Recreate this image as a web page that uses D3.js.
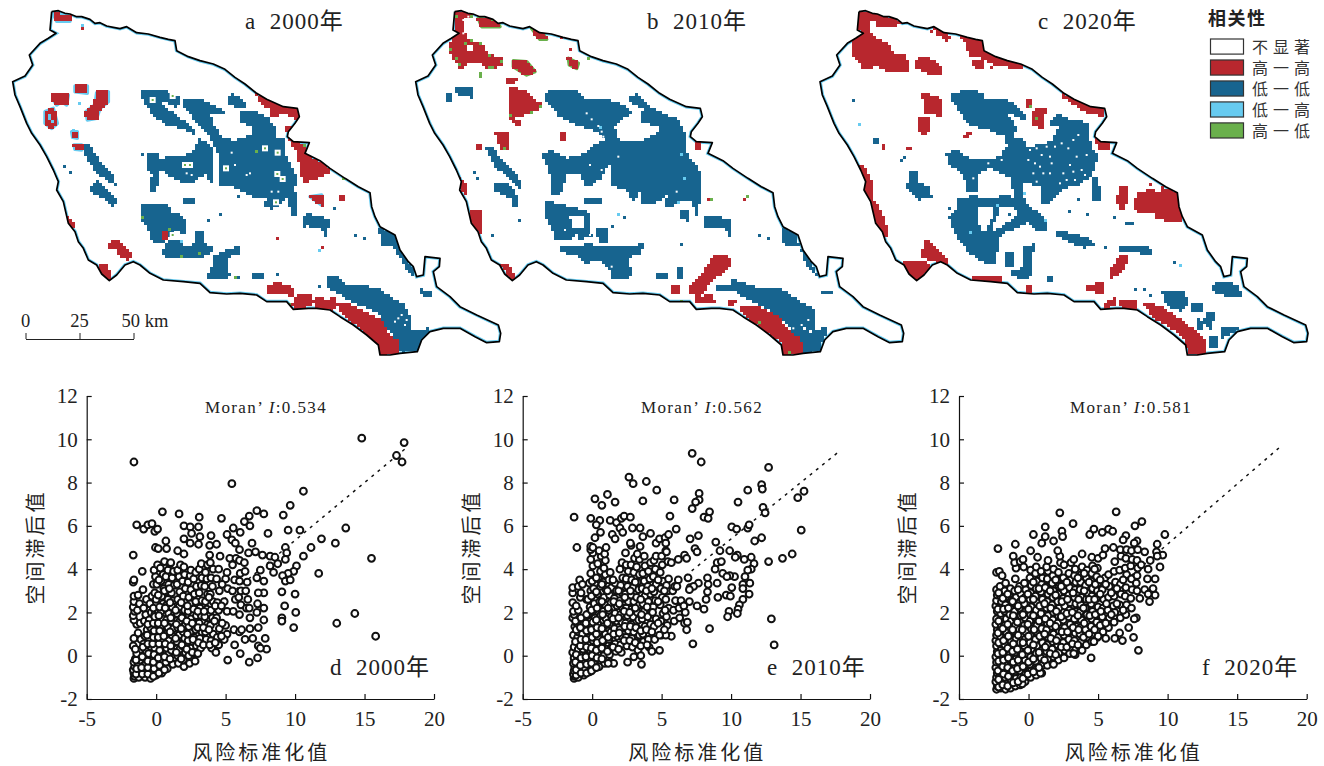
<!DOCTYPE html>
<html>
<head>
<meta charset="utf-8">
<script src="https://cdnjs.cloudflare.com/ajax/libs/d3/7.8.5/d3.min.js"></script>
<style>
body {margin: 0; background: #fff;}
text {font-family: "Liberation Serif", "Noto Sans CJK SC", serif; fill: #222;}
</style>
</head>
<body>
<svg id="canvas" width="1324" height="766"></svg>
<script>
// legend
const legendTitle = "相关性"
const legendLabels = ["不显著", "高一高", "低一低", "低一高", "高一低"]
const legendColors = ["#ffffff", "#b8272e", "#17648f", "#67cbf0", "#6ab04c"]

// axes
const xTicks = [-5, 0, 5, 10, 15, 20]
const yTicks = [-2, 0, 2, 4, 6, 8, 10, 12]
const scaleTicks = [0, 25, 50]

// map outline, map units (flat x,y list)
const outline = [155,35,175,32,195,40,210,42,230,50,245,50,270,58,285,70,300,68,320,78,340,82,360,86,380,80,410,98,445,102,480,112,505,118,525,122,530,152,565,170,600,182,640,192,675,208,705,232,735,252,770,280,800,298,850,320,892,325,898,350,885,370,865,395,862,410,880,425,928,428,915,460,960,482,990,505,1035,535,1075,560,1110,578,1115,620,1125,650,1140,680,1185,705,1200,750,1225,785,1240,800,1250,830,1270,825,1275,770,1320,775,1318,800,1300,815,1310,860,1350,890,1380,920,1430,945,1495,975,1502,1000,1498,1025,1460,1028,1425,1010,1380,985,1330,985,1290,995,1265,1020,1252,1055,1200,1060,1170,1065,1140,1065,1135,1035,1100,1005,1060,975,1020,950,990,930,950,925,925,925,880,928,860,905,800,905,770,885,720,880,680,882,630,878,600,850,550,845,490,840,450,820,420,795,400,785,375,795,350,825,328,842,305,822,290,795,265,780,250,745,235,725,225,695,205,670,190,605,170,570,175,545,160,510,140,470,120,435,95,400,80,370,60,320,45,285,38,245,75,228,98,195,88,165,120,130,145,115,168,100,150,90,155,35]

// 2000 patches
const aLow = [
[425,285,430,272,490,272,510,285,535,295,530,325,515,310,490,300,470,300,490,325,530,350,575,385,580,400,550,385,500,370,465,345,440,310],
[555,298,600,298,625,315,665,330,668,342,625,340,640,380,660,410,695,425,720,420,755,405,770,385,745,370,720,365,725,340,770,340,800,355,825,385,820,420,850,420,855,470,875,510,890,530,880,570,888,590,888,650,875,645,870,600,850,585,845,610,815,625,795,615,820,590,790,590,750,585,720,565,690,555,658,555,662,470,650,440,620,390,585,355,555,320],
[595,420,615,425,640,460,640,530,632,550,625,520,600,525,580,545,545,545,520,530,490,510,470,505,475,530,465,575,450,575,452,545,460,525,440,500,440,470,465,460,480,480,530,470,570,465,590,445],
[683,290,700,285,735,315,725,325,700,315,685,305],
[250,445,262,435,300,490,340,530,335,545,310,530,280,500],
[275,560,290,545,310,560,330,585,345,600,340,620,320,595,295,585,278,572],
[425,612,500,620,515,640,540,645,560,670,550,700,530,690,510,700,480,730,455,715,445,680,430,660],
[590,700,610,700,612,730,635,745,625,760,600,770,560,770,530,770,495,770,490,755,505,725,530,720,550,745,585,735],
[640,770,690,750,715,740,712,760,680,770,680,810,690,825,665,838,625,835,630,815,645,795],
[910,650,930,645,985,660,980,705,960,680,925,675,908,678],
[555,596,585,596,585,606,555,608],
[760,820,790,825,795,835,762,832],
[985,835,1010,835,1040,860,1090,860,1140,870,1175,900,1210,915,1230,960,1225,985,1180,975,1165,985,1140,935,1085,915,1045,895,985,860],
[1165,985,1185,975,1210,985,1250,1000,1290,985,1250,1050,1205,1055,1195,1020],
[1140,690,1185,705,1205,760,1245,825,1225,810,1185,740,1150,735],
[1260,870,1290,880,1290,888,1260,878]]
const aHigh = [
[160,42,210,46,210,64,170,64],
[160,285,205,285,200,315,185,305,170,315,160,300],
[225,258,262,258,262,280,225,275],
[290,278,325,275,325,305,300,325,290,355,262,360,258,335,285,315],
[135,335,160,325,172,370,155,385,135,370],
[215,395,232,395,232,415,218,412],
[222,435,245,435,245,450,225,448],
[200,645,222,680,208,682],
[325,730,355,725,390,765,385,780,360,765,350,745,330,748],
[295,795,320,795,335,835,320,835,305,820],
[770,285,800,298,855,322,892,328,895,358,860,340,815,345,810,322,790,315],
[860,385,875,385,870,398,858,395],
[868,420,915,440,920,470,945,480,990,510,960,530,910,545,905,500,895,470,895,450],
[930,590,965,585,965,615,945,600],
[1018,592,1035,592,1035,603,1018,603],
[805,855,840,852,875,865,875,885,830,875,825,885,808,875],
[880,910,900,885,932,885,932,915,890,925],
[940,900,960,893,975,905,1003,895,1000,930,975,925,950,925],
[1012,915,1045,912,1090,935,1140,960,1165,1010,1195,1025,1195,1060,1140,1065,1135,1030,1095,990,1050,960],
[493,693,503,693,503,716,493,716]]
const aHaloIdx = [0,1,2,3,4,5,6,13]
const aHoles = [[145,345,155,345,160,370,150,370],[715,378,735,378,735,395,715,395]]
const aWhiteSpecks = [695,458,705,495,740,525,750,520,815,575,835,575,560,520,575,525,1195,955,1205,945,1220,960,1185,965,1215,975]
const aLightSpecks = [220,395,545,725,960,755,235,310,250,75,1005,625]
const aBlueSpecks = [195,495,215,520,350,555,625,665,660,645,718,585,1065,705,1095,712,960,860,1005,625,835,825,718,830,430,460]
const aRedSpecks = [250,85,830,712,968,745]
const aGreenSpecks = [772,450,428,648,505,685,545,765,595,762,710,828,1030,535,915,432,870,915]
const aBoxSpecks = [458,300,518,288,795,445,833,458,678,505,832,522,848,537,828,607,555,495,570,495,518,705]

// 2010 patches
const bLow = [
[405,290,420,272,490,272,525,298,590,300,625,312,660,335,610,375,625,428,700,425,750,400,750,375,700,365,695,340,715,330,665,305,662,290,680,285,710,320,750,340,800,360,825,410,830,470,865,505,868,590,860,650,850,605,820,600,790,615,765,615,785,570,760,590,735,605,700,605,690,560,670,600,650,565,610,555,610,490,585,500,575,530,530,560,510,520,470,515,450,580,430,585,428,530,410,490,398,465,420,455,470,480,520,465,560,435,590,420,570,395,500,370,450,345,425,315],
[405,605,470,620,540,640,535,680,535,710,510,715,500,690,480,715,440,715,420,670,405,640],
[565,685,595,685,595,725,575,725,560,700],
[455,745,540,735,600,745,650,745,695,735,690,760,650,770,660,815,655,838,610,835,600,800,570,780,530,785,495,760,455,755],
[140,268,190,265,188,290,160,285,140,278],
[108,280,120,280,120,302,108,302],
[230,445,240,440,280,490,320,525,332,560,305,535,260,500],
[255,548,285,548,312,580,295,590,258,570],
[305,590,325,590,322,620,308,620],
[888,650,960,660,962,705,945,685,890,682],
[965,840,1000,850,1050,870,1110,870,1175,910,1215,930,1210,985,1170,980,1140,975,1090,935,1040,905,985,880],
[1140,975,1200,1000,1250,985,1225,1050,1180,1060],
[1118,685,1150,700,1165,740,1130,730,1118,715],
[740,822,775,825,775,836,740,836],
[805,808,816,808,816,832,805,832],
[815,630,830,630,830,660,815,650],
[525,598,570,596,575,606,525,612],
[1175,750,1190,770,1218,822,1195,800],
[1235,873,1265,873,1265,883,1235,883],
[920,858,970,856,970,866,920,866]]
const bHigh = [
[135,35,185,40,190,55,160,55,155,75,170,120,215,135,230,165,280,175,275,195,240,205,210,185,175,185,155,205,115,150,130,120,135,95],
[205,55,260,65,270,80,215,80],
[310,182,350,185,375,215,350,225,310,200],
[365,85,395,95,410,118,390,118],
[475,175,505,190,500,205,478,195],
[288,235,318,235,310,250,290,250],
[295,265,335,270,395,318,360,340,330,345,300,355,305,300],
[310,355,330,370,315,375],
[255,395,295,395,295,445,275,445,265,415],
[450,403,468,403,468,420,450,420],
[205,435,217,435,217,447,205,447],
[855,430,873,430,873,447,855,447],
[140,530,165,550,170,578,150,565],
[180,630,210,635,210,695,190,690,178,650],
[275,790,295,795,315,838,300,835],
[915,765,945,765,965,795,925,825,905,840,870,885,838,880,840,860,880,820,905,785],
[790,860,803,860,803,878,790,878],
[860,895,905,885,912,908,862,910],
[958,900,975,900,970,915,958,912],
[990,920,1040,920,1100,950,1140,1000,1170,1020,1175,1060,1120,1065,1115,1025,1060,985,1015,950]]
const bHaloIdx = [1,2,3,4]
const bHoles = [[480,650,525,650,525,680,490,680],[175,135,190,135,190,155,175,155]]
const bWhiteSpecks = [530,340,545,358,565,378,575,395,580,410,625,470,575,510,540,495,490,545,470,555,580,555,610,575,475,605,605,800,495,665,465,690,540,705,800,575,830,610,1195,960,1175,975,1150,985,160,60,175,50,160,100]
const bLightSpecks = [810,460,822,535,805,605,625,640,568,378]
const bBlueSpecks = [190,520,200,535,325,658,250,705,812,730,820,655,1045,705,1078,712,530,600,545,705,640,650,605,675,585,690,700,745]
const bRedSpecks = [895,597,1003,597,485,145,450,115,320,372]
const bGreenSpecks = [905,600,1008,590,535,175,215,220,215,228,810,900,1045,965,1140,1060,125,150,135,175,150,195,165,130,185,125,215,130,235,165,250,200,275,180,235,205,140,45,185,45,365,340,390,320,300,350,280,445]

// 2020 patches
const cLow = [
[422,285,440,280,480,272,510,280,525,300,580,300,620,320,645,350,640,355,600,345,590,335,595,355,620,385,605,410,640,425,650,445,700,435,730,425,740,395,760,385,720,368,745,345,770,360,830,370,830,400,845,450,860,465,845,520,810,550,770,560,745,570,715,610,700,610,695,585,700,540,680,560,660,545,640,550,640,590,660,625,695,650,712,690,680,690,650,660,625,680,590,690,555,720,565,735,550,790,535,790,500,770,475,750,440,700,425,670,420,650,445,630,440,600,490,590,530,598,590,590,620,600,610,560,600,545,615,520,590,525,560,510,535,500,505,520,500,570,470,570,465,520,420,490,410,460,440,455,480,480,530,485,575,470,595,440,585,405,530,385,480,370,445,325],
[305,515,325,520,320,545,360,570,362,595,320,590,293,560],
[855,530,870,575,870,600,845,600,845,560],
[738,692,770,700,820,712,860,735,820,740,775,720,745,708],
[928,740,1015,738,1020,762,975,755,930,750],
[1210,855,1250,850,1285,860,1290,890,1250,885,1210,870],
[645,745,670,735,660,790,665,825,640,838,605,820,640,805],
[590,760,610,760,605,795,585,795],
[712,828,730,828,730,845,712,845],
[1060,875,1120,880,1135,905,1110,930,1085,920,1065,900],
[1150,915,1175,915,1170,935,1150,935],
[1195,935,1215,935,1200,985,1185,965],
[1165,960,1180,965,1175,990,1160,990],
[1200,1015,1225,1010,1215,1045,1200,1045],
[1235,985,1290,985,1250,1005,1240,1010],
[190,418,208,418,203,432,195,428],
[945,665,970,665,965,673,945,673]]
const cHigh = [
[150,35,195,40,280,70,205,80,200,60,170,65,185,110,225,130,255,165,285,170,298,210,230,210,200,195,165,205,125,155,130,120,155,100,145,70],
[315,180,355,175,395,205,395,225,360,222,315,198],
[375,80,395,85,420,115,410,120,385,100],
[450,108,520,122,520,155,570,175,625,190,640,205,560,195,510,170,480,165,472,130],
[490,180,515,180,515,205,495,200],
[338,280,395,300,395,345,350,340],
[325,358,355,358,358,395,340,402,325,385],
[648,298,665,298,665,318,650,318],
[680,325,705,330,695,380,668,378,665,350],
[755,285,800,295,880,330,880,345,840,340,790,310],
[862,420,900,432,895,448,865,445],
[150,500,165,505,190,570,190,605,215,640,235,705,215,705,190,650,165,580,150,540],
[345,722,365,735,410,785,385,785,360,780,338,770],
[275,785,345,785,360,800,325,842,300,825],
[935,560,950,565,948,600,938,630,920,600],
[985,580,1030,572,1040,590,1060,565,1100,578,1112,660,1090,665,1040,650,1030,630,985,640,975,610],
[935,770,950,770,945,800,905,832,898,815],
[830,860,880,850,880,878,830,870],
[1000,910,1050,920,1115,965,1180,1015,1185,1065,1135,1060,1130,1020,1090,985,1040,955],
[880,920,915,895,915,908,890,925],
[930,905,980,905,975,930,945,925],
[480,830,580,832,560,848,500,848],
[650,860,665,860,665,875,650,875],
[465,405,480,403,470,415],
[290,440,303,440,303,455],
[215,438,225,438,220,448]]
const cHoles = [[505,625,550,625,555,640,530,690,510,690],[570,625,615,625,620,650,565,685,540,700],[590,335,610,345,605,360],[640,575,660,600,660,625,645,600]]
const cWhiteSpecks = [660,450,680,445,655,480,675,490,695,465,710,440,720,470,690,500,670,520,700,520,680,545,725,490,735,440,755,430,790,420,805,405,775,445,800,470,780,495,760,520,790,515,815,510,825,525,795,540,770,540,750,550,830,465,720,520,535,490,575,480,490,535,545,565]
const cLightSpecks = [150,372,640,580,710,660,565,620,480,700,1115,797]
const cBlueSpecks = [127,298,278,485,330,600,418,628,910,655,830,645,805,600,775,632,1060,875,1020,885,1005,865,980,868,1090,785,890,745,600,640,280,475]
const cRedSpecks = [360,92,545,205,1025,555,930,620]
const cGreenSpecks = [657,318,677,353]

// scatter points, flat x,y lists
const dPoints = [-1.6,-1.05,-1.55,-.95,-1.6,-.8,-1.65,-.65,-1.55,-.5,-1.6,-.3,-1.5,-.15,-1.65,.45,-1.6,.8,-1.4,1.45,-1.6,1.65,-1.65,1.85,-1.55,2.05,-1.65,2.25,-1.6,2.5,-1.6,2.75,-1.65,3.4,-1.6,3.5,
-1.25,-1,-1.2,-.75,-1.3,-.45,-1.15,-.2,-1.25,.1,-1.2,.25,-1.1,.75,-1.3,1.05,-1.15,1.5,-1.35,2.1,-1.2,2.4,-1.3,2.8,
-.8,-1,-.9,-.7,-.75,-.4,-.85,-.1,-.7,.2,-.9,.55,-.8,.9,-.65,1.2,-.85,1.6,-.75,1.9,-.9,2.2,-.7,2.6,-.95,3.05,-1,3.9,
-.4,-1.05,-.35,-.75,-.5,-.5,-.3,-.2,-.45,.1,-.35,.4,-.5,.75,-.3,1,-.4,1.3,-.5,1.65,-.35,2,-.45,2.4,-.3,2.75,-.2,3.3,
0,-.9,.05,-.6,-.05,-.3,.1,0,-.1,.35,.05,.65,-.05,.95,.1,1.25,0,1.55,-.1,1.9,.15,2.05,0,2.6,-.1,2.9,.05,3.3,-.05,3.65,-.15,3.95,.1,4.2,
.4,-.8,.35,-.55,.5,-.2,.3,.1,.45,.4,.4,.75,.55,1.05,.3,1.35,.45,1.7,.35,2.05,.5,2.4,.4,2.75,.55,3.1,.35,3.45,.5,3.75,.3,4.05,.6,4.35,
.8,-.6,.7,-.3,.85,.05,.75,.35,.9,.7,.7,1,.85,1.3,.75,1.65,.9,1.95,.7,2.3,.85,2.6,.75,2.95,.9,3.3,.7,3.65,.85,3.95,1,4.25,
1.2,-.4,1.25,-.1,1.1,.25,1.3,.6,1.15,.95,1.25,1.25,1.1,1.6,1.3,1.9,1.15,2.25,1.25,2.55,1.1,2.9,1.3,3.25,1.15,3.6,1.25,3.9,1.05,4.3,
1.6,-.35,1.55,0,1.7,.3,1.5,.65,1.65,.95,1.55,1.3,1.7,1.6,1.5,1.95,1.65,2.25,1.55,2.6,1.7,2.95,1.5,3.3,1.65,3.65,1.55,3.95,1.75,4.2,
2,-.5,1.95,-.2,2.1,.15,1.9,.45,2.05,.8,1.95,1.1,2.1,1.45,1.9,1.8,2.05,2.1,2.1,2.45,1.95,2.75,2.1,3.1,1.9,3.45,2.05,3.75,2,4.1,
2.4,-.35,2.35,0,2.5,.35,2.3,.7,2.45,1.05,2.35,1.35,2.5,1.7,2.3,2.05,2.45,2.4,2.35,2.7,2.5,3.05,2.3,3.4,2.45,3.7,2.5,3.95,
2.8,-.25,2.75,.1,2.9,.45,2.7,.85,2.85,1.2,2.75,1.5,2.9,1.85,2.7,2.15,2.85,2.5,2.75,2.85,2.9,3.2,2.7,3.55,2.85,3.85,
3.2,.35,3.15,.8,3.3,1.1,3.1,1.5,3.25,1.85,3.15,2.2,3.3,2.55,3.1,2.9,3.25,3.25,3.3,3.6,3.1,4,3.25,4.25,
3.6,.75,3.55,1.1,3.7,1.45,3.5,1.8,3.65,2.15,3.55,2.5,3.7,2.85,3.5,3.2,3.65,3.55,3.55,3.85,3.7,4.2,
4,.35,3.95,.7,4.1,1,3.9,1.4,4.05,1.75,3.95,2.1,4.1,2.5,3.9,2.85,4.05,3.2,3.95,3.6,4.1,4,3.9,4.3,3.85,4.65,
4.3,.15,4.5,.5,4.4,.85,4.55,1.25,4.35,1.75,4.5,2.1,4.4,2.45,4.55,3,4.35,3.55,4.5,4,4.6,4.6,
5.1,1,5,1.4,5.1,2.05,4.9,2.5,5.15,3.1,5,3.55,5.1,3.85,5.3,4.5,
5.6,1.2,5.55,2.05,5.7,2.6,5.5,3,5.65,3.5,5.5,4.2,5.75,4.5,
6,1.1,6,1.9,6.1,2.35,5.95,2.7,6.1,3,6,3.45,6.05,3.8,6,4.4,
6.5,2.2,6.6,2.6,6.45,3,6.55,3.4,6.4,3.9,6.35,4.3,
.45,6.65,-1.4,6.05,-.9,5.85,-.6,6.05,-.3,6.1,-.1,5.75,.1,5.85,1.65,6.55,3.1,6.4,4.7,6.35,2,6,2.45,5.95,3.05,5.95,2.55,5.65,3.15,5.5,2,5.4,2.45,5.2,3.05,5.15,3.95,5.55,3.85,5.1,4.35,5.15,.7,5.3,-.05,5,.15,4.95,.75,4.95,1.55,4.85,2,4.7,-1.65,4.65,5.1,5.6,5.55,5.9,6.05,5.7,5.45,5.35,5.7,5.2,6.35,6.2,6.7,6.45,6.75,6,7.25,6.7,7.75,6.55,8.05,5.65,6.9,5.2,6,4.9,6.65,4.75,7.15,4.8,7.65,4.65,8.2,4.6,8.75,4.25,8.55,4.55,7.5,3.95,8.2,4.15,8.45,3.85,7.75,3.45,7.25,3.6,7.75,2.9,7.35,2.9,7.3,2.4,7.75,2.2,7.25,2,6.7,2.2,6.75,1.75,7.75,1.65,7.35,1.3,6.75,1.25,6.15,1.2,7.85,.8,6.95,.8,6.4,.75,7.35,.45,7.95,.3,7.5,.35,7.3,-.1,6.7,-.3,6.05,.1,5.65,.5,5.15,-.2,4.9,.75,
-1.6,8.95,14.8,10.05,17.85,9.85,17.3,9.25,17.7,8.95,5.45,7.95,10.6,7.6,9.65,6.95,9.15,6.5,9.5,5.8,10.35,5.8,11.9,5.4,13.65,5.9,12.9,5.2,11.15,5,10.6,4.6,9.3,5,9.4,4.75,9.3,4.45,15.5,4.5,11.7,3.8,10.1,4.15,9.9,3.9,9.5,3.8,9.1,3.7,9.3,3.45,9.65,3.5,9.05,2.95,10,2.85,9.25,2.3,10.05,2,9.05,1.75,9.05,1.6,9.9,1.3,14.3,1.95,13,1.5,15.8,.9]
const dDense = [-1.45,-.85,-1.4,-.6,-1.45,-.2,-1.4,.1,-1.5,.3,-1,-.85,-1.05,-.55,-1,-.05,-.95,.4,-.6,-.85,-.6,-.55,-.6,-.25,-.55,.1,-.6,.55,-.65,.95,-.6,1.45,-.2,-.95,-.15,-.6,-.2,-.3,-.15,.05,-.25,.55,-.2,.85,-.15,1.15,-.2,1.5,-.1,1.8,-.2,2.2,.2,-.8,.25,-.45,.15,-.1,.25,.25,.2,.55,.15,.85,.25,1.15,.15,1.5,.2,1.85,.25,2.25,.15,2.8,.2,3.5,.6,-.65,.6,-.05,.65,.55,.55,.9,.6,1.5,.65,2.2,.6,3,1,-.15,1.05,.45,1,1.1,1.05,1.75,1,2.45,.95,3.1,1.45,.15,1.4,.8,1.45,1.45,1.4,2.1,1.8,-.15,1.85,.5,1.8,1.25,1.85,1.75,1.8,2.45,2.2,.3,2.25,1,2.2,1.6,2.25,2.3,2.6,.15,2.65,.75,2.6,1.5,3,.1,3.05,.6,3,1.3,3,2.05,3.4,.5,3.4,1.3,3.45,2.05,3.85,.5,3.8,1.2,3.8,2.7,4.25,.6,4.2,1.6,4.25,2.3,4.7,.9,4.75,1.5,4.7,2.3,4.75,3.3]

const ePoints = [-1.3,-1.05,-1.25,-.95,-1.35,-.85,-1.3,-.7,-1.25,-.55,-1.35,-.35,-1.3,-.1,-1.4,.15,-1.3,.4,-1.35,.95,-1.25,1.35,-1.4,1.75,-1.3,1.9,-1.35,2.05,-1.4,2.45,-1.4,2.9,-1.4,3.15,
-1,-1,-.95,-.75,-1.05,-.5,-.95,-.2,-1.1,.05,-1,.3,-1.05,.85,-1,1.1,-1.1,1.5,-1,2.1,-.85,2.7,-1,3.2,-.9,3.5,
-.6,-.9,-.55,-.6,-.7,-.3,-.5,0,-.65,.3,-.6,.6,-.7,1,-.55,1.35,-.65,1.7,-.4,2.6,-.7,3.3,
-.2,-.75,-.15,-.45,-.3,-.15,-.1,.2,-.25,.5,-.2,.85,-.3,1.2,-.1,1.6,-.25,1.95,-.15,2.25,-.3,2.6,-.1,3,-.2,3.35,
.1,-.6,.15,-.3,0,.05,.2,.35,.05,.7,.15,1.05,0,1.4,.2,1.75,.05,2.05,.15,2.4,-.05,2.75,.1,3.1,0,3.45,-.1,3.8,.05,4.15,-.1,4.45,.05,4.75,-.1,4.9,
.5,-.5,.55,-.2,.4,.15,.6,.5,.45,.8,.55,1.15,.4,1.5,.6,1.85,.45,2.2,.55,2.5,.4,2.85,.6,3.2,.45,3.55,.6,3.9,.4,4.25,.65,4.6,.5,4.85,
.9,-.35,.85,0,1,.3,.8,.65,.95,1,.85,1.35,1,1.7,.8,2.05,.95,2.35,.85,2.7,1,3.05,.8,3.4,.95,3.75,.85,4.05,.95,4.4,.9,4.7,
1.3,-.3,1.25,.05,1.4,.4,1.2,.75,1.35,1.1,1.25,1.45,1.4,1.8,1.2,2.1,1.35,2.45,1.25,2.8,1.4,3.15,1.2,3.5,1.3,3.85,
1.7,.2,1.65,.55,1.8,.9,1.6,1.25,1.75,1.6,1.65,1.95,1.8,2.3,1.6,2.65,1.75,3,1.65,3.35,
2.1,.15,2.05,.5,2.2,.85,2,1.2,2.15,1.55,2.05,1.9,2.2,2.2,2,2.55,2.15,2.9,2.05,3.25,2.2,3.6,2,4,2.15,4.3,2.4,4.75,
2.5,.45,2.45,.85,2.6,1.15,2.4,1.5,2.55,1.85,2.45,2.2,2.6,2.5,2.4,2.85,2.55,3.2,2.45,3.55,2.6,3.9,2.45,4.2,
2.9,.4,2.85,.8,3,1.1,2.8,1.45,2.95,1.8,2.85,2.15,3,2.5,2.8,2.8,2.95,3.15,2.85,3.5,3,3.85,2.8,4.2,3.05,4.5,
3.3,.25,3.25,.6,3.4,.95,3.2,1.3,3.35,1.65,3.25,2,3.4,2.35,3.2,2.7,3.35,3.05,3.25,3.4,3.4,3.75,3.2,4.1,3.4,4.45,3.25,4.7,
3.7,.65,3.65,1,3.8,1.35,3.6,1.7,3.75,2.05,3.65,2.4,3.8,2.75,3.6,3.1,3.75,3.45,3.65,3.8,3.8,4.15,3.75,4.6,
4.1,.4,4.05,.75,4.2,1.45,4,1.8,4.15,2.15,4.05,2.5,4.2,2.85,4,3.2,4.15,3.55,4.05,3.9,4.2,4.3,
4.5,.75,4.45,1.35,4.6,1.7,4.4,2.25,4.55,2.55,4.45,2.95,4.6,3.3,4.4,3.65,4.55,4,4.45,4.4,4.6,4.6,
5,.95,4.95,1.6,5.1,1.95,4.9,2.35,5.05,2.7,4.95,3.1,5.1,3.45,4.9,3.85,5.05,4.2,5,4.6,5.3,4.85,
5.4,1.4,5.35,1.8,5.5,2.2,5.3,2.6,5.45,3,5.35,3.25,5.5,3.55,5.45,4.35,5.35,4.8,
5.9,1.6,5.85,2.1,6,2.55,5.8,3,5.95,3.2,6.2,3.5,
6.3,1.75,6.25,2.2,6.4,2.55,6.1,3.2,6.7,2,6.65,1.5,6.6,2.3,
7.2,9.35,7.85,8.95,12.7,8.7,2.65,8.25,2.95,7.95,3.9,8.05,4.65,7.65,1.1,7.45,.2,7.25,.7,6.95,1.65,7.1,3.65,7.15,5.9,7.2,7.7,7.5,7.7,7.2,7.45,7.1,7.2,6.8,8.45,6.65,8.05,6.4,8.35,6.35,5.6,6.45,-1.3,6.4,-.1,6.35,.55,6.25,.3,6.05,1.3,6.25,1.75,6.15,2.1,6.35,2.3,6.45,2.75,6.4,2,5.9,2.2,5.7,2.9,5.9,3.45,5.9,3.65,5.5,4.2,5.65,.2,5.45,.6,5.7,1.45,5.6,1.65,5.4,-1.1,5,-.1,5.05,.05,5,1,5,2.8,5.1,2.75,5.2,3.45,5.05,4.6,5.2,4.85,5.4,5.25,5.45,5.5,5.6,5.3,5.2,6.05,5.85,7.05,5.4,7.65,5.55,7.4,4.95,7.55,4.8,6.65,4.65,6.2,4.45,5.7,4.3,6.8,4.5,8.9,5.25,9.2,4.85,9,4.3,9.3,4.35,8.85,4,9.9,4.85,10.05,5.95,10.4,5.85,11.2,5.9,11.3,6.05,10.5,7.1,11.2,7.65,12.2,7.9,12.25,7.7,12.3,6.85,12.45,6.6,12.2,5.45,11.7,5.3,14.8,7.3,15.25,7.6,15.05,5.8,14.4,4.7,13.7,4.5,12.7,4.35,11.65,4.25,11.45,4.55,10.95,4.45,10.45,4.65,10.3,4.55,11.45,4,11.2,3.95,11,3.65,10.25,3.65,9.9,3.7,9.4,3.8,9.7,3.65,8.3,3.6,7.65,3.35,8.35,3.3,9,3.35,6.9,3.6,7.05,3.15,7.3,3.2,7,3.05,8.3,2.95,8.2,2.6,9.05,2.7,9.65,2.8,9.95,2.75,10.05,3.15,10.85,3.3,11.35,3.35,10.85,3.1,11.3,2.85,10.85,2.6,10.6,2.35,10.5,2.15,10.45,1.95,9.85,2.05,9.75,1.8,7,2.5,7.55,2.3,8.05,2.15,12.9,1.7,13.1,.5,8.45,1.25,7.25,.55,6.85,1.55,6.8,1.2,5.7,.9,5.3,.95,4.85,.95,4.85,.25,4.3,.2,3.55,-.4,2.55,-.3,3,-.05,3.5,0,1.55,-.35,1.15,-.35]
const eDense = [-1.15,-.9,-1.15,-.65,-1.2,-.3,-1.15,.05,-1.2,.65,-1.15,1.2,-1.2,1.6,-1.15,2.3,-.8,-.8,-.85,-.45,-.8,-.1,-.85,.45,-.8,.75,-.85,1.3,-.8,1.75,-.8,2.9,-.4,-.8,-.4,-.4,-.45,-.05,-.4,.4,-.45,.75,-.4,1.15,-.45,1.5,-.4,1.9,-.05,-.7,-.05,-.35,0,0,-.05,.35,0,.85,-.05,1.2,.05,1.55,-.05,2.1,.3,-.55,.35,-.1,.3,.25,.35,.6,.3,1,.35,1.3,.3,1.65,.35,2.2,.3,2.95,.3,3.6,.7,-.15,.7,.35,.75,.7,.7,1.25,.75,1.9,.7,2.5,.7,3.3,1.1,.2,1.15,.85,1.1,1.5,1.15,2.2,1.1,3,1.5,.4,1.55,1,1.5,1.7,1.55,2.5,1.5,3.5,1.9,.3,1.95,1.05,1.9,1.75,1.95,2.4,1.9,3,2.3,.7,2.35,1.35,2.3,2.05,2.35,2.7,2.7,.7,2.75,1.35,2.7,2,2.75,3,3.1,.6,3.15,1.3,3.1,2.2,3.1,3.4,3.5,.45,3.5,1.15,3.55,1.9,3.5,2.6,3.95,.5,3.9,1.2,3.95,2.25,3.9,3,4.3,1.1,4.35,2,4.3,3.1,4.75,1.5,4.75,2.5,4.75,3.5,5.2,1.2,5.25,2.1,5.2,3]

const fPoints = [-2.3,-1.55,-2.25,-1.4,-2.35,-1.2,-2.3,-1,-2.25,-.8,-2.35,-.55,-2.3,-.3,-2.35,-.05,-2.25,.2,-2.3,.45,-2.35,.7,-2.3,.95,-2.25,1.2,-2.35,1.45,-2.3,1.7,-2.25,2.05,-2.35,2.3,-2.3,2.55,-2.25,2.8,-2.3,3.05,-2.3,3.85,
-2,-1.5,-1.95,-1.2,-2.05,-.9,-1.95,-.65,-2.05,-.35,-2,-.05,-1.95,.3,-2.05,.55,-2,.85,-2.05,1.15,-1.95,1.4,-2,1.95,-2.05,2.25,-1.95,2.5,-2,2.75,-2.05,3.2,-2.1,3.9,-1.9,3.7,
-1.65,-1.55,-1.6,-1.3,-1.7,-1,-1.6,-.7,-1.7,-.4,-1.65,-.1,-1.6,.2,-1.7,.5,-1.65,.8,-1.6,1.1,-1.7,1.4,-1.6,1.7,-1.7,2.05,-1.65,2.35,-1.6,2.7,-1.7,3,-1.65,3.35,
-1.3,-1.5,-1.25,-1.15,-1.35,-.85,-1.3,-.55,-1.25,-.25,-1.35,.05,-1.3,.35,-1.25,.65,-1.35,.95,-1.3,1.3,-1.25,1.6,-1.35,1.9,-1.3,2.2,-1.25,2.55,-1.35,2.85,-1.3,3.1,
-.95,-1.4,-.9,-1.05,-1,-.75,-.95,-.45,-.9,-.15,-1,.15,-.95,.5,-.9,.8,-1,1.1,-.95,1.4,-.9,1.7,-1,2.05,-.95,2.4,-.9,2.7,-1,3,-.95,3.55,-.9,4.05,-1,4.3,-1.1,4.6,
-.6,-1.35,-.55,-1,-.65,-.7,-.6,-.35,-.55,-.05,-.65,.25,-.6,.6,-.55,.9,-.65,1.2,-.6,1.55,-.55,1.85,-.65,2.2,-.6,2.5,-.55,2.85,-.65,3.2,-.6,4.35,
-.25,-1.2,-.2,-.85,-.3,-.5,-.25,-.2,-.2,.1,-.3,.45,-.25,.75,-.2,1.1,-.3,1.4,-.25,1.75,-.2,2.05,-.3,2.4,-.25,2.7,-.2,3.05,-.3,3.35,-.35,4.1,-.4,4.45,
.15,-1,.2,-.7,.1,-.4,.15,-.05,.2,.3,.1,.6,.15,.95,.2,1.25,.1,1.6,.15,1.9,.2,2.25,.1,2.6,.15,2.9,.2,3.25,.1,3.6,.15,3.95,.15,4.85,
.55,-.9,.6,-.6,.5,-.25,.55,.1,.6,.45,.5,.75,.55,1.1,.6,1.4,.5,1.75,.55,2.1,.6,2.45,.5,2.75,.55,3.1,.6,3.45,.5,3.8,.55,4.1,.65,4.55,
.95,-.8,1,-.45,.9,-.1,.95,.25,1,.6,.9,.9,.95,1.25,1,1.6,.9,1.95,.95,2.25,1,2.6,.9,2.95,.95,3.3,1,3.6,.9,3.9,
1.35,-.45,1.4,-.15,1.3,.2,1.35,.5,1.4,.85,1.3,1.2,1.35,1.5,1.4,1.85,1.3,2.2,1.35,2.5,1.4,2.85,1.3,3.2,1.35,3.55,1.4,3.9,1.3,4.1,1.4,4.4,
1.75,-.35,1.8,-.05,1.7,.3,1.75,.65,1.8,1,1.7,1.35,1.75,1.65,1.8,2,1.7,2.35,1.75,2.7,1.8,3,1.7,3.35,1.75,3.7,1.8,4,
2.15,-.2,2.2,.15,2.1,.5,2.15,.85,2.2,1.15,2.1,1.5,2.15,1.85,2.2,2.2,2.1,2.5,2.15,2.85,2.2,3.2,2.1,3.5,2.15,3.85,2.3,4.3,2.25,4.6,2.1,4.85,
2.55,-.1,2.6,.25,2.5,.6,2.55,.95,2.6,1.3,2.5,1.65,2.55,2,2.6,2.3,2.5,2.65,2.55,3,2.6,3.3,2.5,3.6,2.55,4.2,
2.95,.1,3,.4,2.9,.75,2.95,1.1,3,1.45,2.9,1.8,2.95,2.1,3,2.45,2.9,2.8,2.95,3.15,3,3.5,2.9,3.8,3.05,4.3,
3.35,.05,3.4,.35,3.3,.7,3.35,1.05,3.4,1.35,3.3,1.7,3.35,2.05,3.4,2.4,3.3,2.7,3.35,3.05,3.4,3.4,3.3,3.7,3.35,4,3.25,4.45,
3.75,.3,3.8,.65,3.7,1,3.75,1.3,3.8,1.65,3.7,2,3.75,2.35,3.8,2.7,3.7,3.05,3.75,3.4,3.8,3.75,3.85,4.1,3.85,4.7,
4.15,.5,4.2,.85,4.1,1.2,4.15,1.55,4.2,1.9,4.1,2.2,4.15,2.6,4.2,2.9,4.1,3.25,4.15,3.6,4.2,3.95,
4.55,.65,4.6,1,4.5,1.35,4.55,1.7,4.6,2.05,4.5,2.4,4.55,2.75,4.6,3.1,4.5,3.45,4.55,3.8,4.6,4.15,4.55,4.55,
4.95,.85,5,1.2,4.9,1.55,4.95,1.85,5,2.25,4.9,2.65,4.95,3,5,3.35,4.9,3.65,4.95,4.05,5,4.5,
5.35,1.1,5.4,1.45,5.3,1.8,5.35,2.2,5.4,2.6,5.3,3.05,5.5,3.6,5.35,4.65,
5.75,1.3,5.8,1.75,5.7,2.1,5.75,2.7,5.8,3.2,5.75,3.75,5.5,4.95,
6.15,1.55,6.2,2,6.1,2.3,6.15,2.75,6.25,3.4,6.15,3.9,6.2,4.35,6.1,5,
6.6,1.75,6.55,2.35,6.65,2.85,6.6,3.3,6.55,3.95,6.65,4.6,6.6,4.9,
7,1.9,7.05,2.35,6.95,2.75,7,3.15,7.05,3.75,6.95,4.05,7,4.5,7.05,4.9,
7.4,2.2,7.35,2.65,7.45,3.05,7.4,3.55,7.35,4.15,7.45,4.45,7.4,4.85,
7.8,3,7.75,3.35,7.8,3.7,7.85,4.05,7.8,4.4,7.85,4.9,
-2.2,4.95,2.25,6.6,3.2,6.1,6.3,6.65,1.2,5.95,.35,5.6,-.95,5.15,2.4,5.75,2.45,5.5,1.2,5.5,.95,5.2,1.8,5.3,4.4,5.6,4.7,5.85,5.3,5.7,5.75,5.85,6.05,5.75,7.65,6,8.15,6.2,9.8,5.6,7,5.55,6.8,5.35,7.8,5.3,7.6,5.2,9.25,5.15,9.2,4.8,9.65,4.65,9.25,4.6,9.45,4.1,8.75,4.4,8.35,4.8,8.6,4,8.1,4.2,8.55,3.55,9.1,3.55,8.95,3.1,8.35,3.05,9.1,2.8,8.6,2.85,8.7,2.5,8,2.65,7.75,1.75,7.6,1.7,7.2,1.3,7.55,.85,7.9,.25,6.75,.7,6.55,1.05,6.2,.8,5.55,.8,5,.9,4.7,.65,4.5,-.1,3.85,.25,3.25,.1,1.8,-.4,.85,-.8,-.45,-1.3]
const fDense = [-2.15,-1.45,-2.15,-1.1,-2.2,-.7,-2.15,-.25,-2.2,.1,-2.15,.6,-2.2,1.05,-2.15,1.6,-2.2,2.15,-2.15,2.9,-1.85,-1.35,-1.8,-.85,-1.85,-.5,-1.8,-.2,-1.85,.15,-1.8,.7,-1.85,1.25,-1.8,2.15,-1.85,2.65,-1.5,-1.4,-1.45,-.95,-1.5,-.55,-1.45,-.1,-1.5,.35,-1.45,.9,-1.5,1.45,-1.45,2.2,-1.5,2.85,-1.1,-1.25,-1.15,-.7,-1.1,-.3,-1.15,.2,-1.1,.55,-1.15,1.2,-1.1,1.85,-1.15,2.5,-.75,-1.2,-.8,-.6,-.75,-.2,-.8,.3,-.75,.95,-.8,1.55,-.75,2.3,-.75,3.05,-.4,-1.05,-.4,-.5,-.45,.05,-.4,.6,-.45,1.2,-.4,1.9,-.45,2.6,-.05,-.85,0,-.3,-.05,.25,0,.9,-.05,1.45,0,2.15,-.05,2.85,.35,-.75,.35,-.15,.35,.5,.4,1.2,.35,1.85,.35,2.6,.35,3.4,.75,-.55,.75,.15,.8,.9,.75,1.6,.8,2.3,.75,3.1,1.15,-.2,1.2,.4,1.15,1,1.2,1.7,1.15,2.4,1.2,3.15,1.55,.1,1.6,.8,1.55,1.5,1.6,2.2,1.55,3,1.95,.05,2,.7,1.95,1.35,2,2.05,1.95,2.8,1.95,3.5,2.35,.4,2.4,1.1,2.35,1.8,2.4,2.5,2.35,3.2,2.75,.4,2.8,1.1,2.75,1.95,2.8,2.6,2.75,3.4,3.15,.55,3.2,1.3,3.15,2,3.2,2.9,3.55,.5,3.6,1.2,3.55,1.85,3.6,2.6,3.55,3.6,3.95,.85,4,1.5,3.95,2.2,4,3,4,3.8,4.35,1,4.4,1.85,4.35,2.6,4.35,3.4,4.75,1.2,4.8,1.9,4.75,2.6,4.8,3.3,4.75,4,5.15,1.4,5.2,2.05,5.15,2.85,5.15,3.5,5.55,1.5,5.6,2.4,5.55,3.3,5.95,1.9,5.95,2.9,6.35,2.4,6.35,3.1,6.8,2.1,6.8,3.5]

// regression line ends
const dLine = [[0, 0], [18, 9.6]]
const eLine = [[0, 0.2], [17.9, 9.5]]
const fLine = [[0, -0.4], [18, 9.6]]

const moranValues = ["0.534", "0.562", "0.581"]
const mapTitles = ["a  2000年", "b  2010年", "c  2020年"]
const scatterTitles = ["d  2000年", "e  2010年", "f  2020年"]

var svg = d3.select("#canvas")
const cell = 9
const colorHigh = legendColors[1], colorLow = legendColors[2], colorLight = legendColors[3], colorGreen = legendColors[4]

function pts(flat){
	return d3.range(0, flat.length, 2).map(i => [flat[i], flat[i+1]])
}

// paint polygon into the raster grid, map pixels look stepped like the source
function paintPolys(grid, polys, cls){
	var o = cls ? [[.5,.5],[.15,.15],[.85,.15],[.15,.85],[.85,.85]] : [[.5,.5]]
	polys.forEach(flat => {
		var p = pts(flat)
		var xr = d3.extent(p, d => d[0]), yr = d3.extent(p, d => d[1])
		for (var i = Math.floor(xr[0]/cell); i <= xr[1]/cell; i++){
			for (var j = Math.floor(yr[0]/cell); j <= yr[1]/cell; j++){
				if (o.some(s => d3.polygonContains(p, [(i+s[0])*cell, (j+s[1])*cell]))) {
					if (cls) grid.set(i+"_"+j, cls)
					else grid.delete(i+"_"+j)
				}
			}
		}
	})
}

function paintSpecks(grid, flat, cls){
	pts(flat).forEach(d => {
		grid.set(Math.floor(d[0]/cell)+"_"+Math.floor(d[1]/cell), cls)
	})
}

function drawMap(cfg){
	var x = d3.scaleLinear().domain([0, 1320]).range([cfg.ox, cfg.ox+440])
	var y = d3.scaleLinear().domain([0, 1110]).range([0, 370])
	// outline is shared, shifted per panel
	var ox = d3.scaleLinear().domain([0, 1320]).range([cfg.ox+cfg.shift/3, cfg.ox+cfg.shift/3+440])
	var outlinePath = d3.line().x(d => ox(d[0])).y(d => y(d[1]))
	var closed = d3.line().x(d => x(d[0])).y(d => y(d[1])).curve(d3.curveLinearClosed)
	var g = svg.append("g")

	var clip = "clip-"+cfg.name
	svg.append("clipPath").attr("id", clip).append("path").attr("d", outlinePath(pts(outline)))

	var inner = g.append("g").attr("clip-path", "url(#"+clip+")")
	inner.append("path").attr("d", outlinePath(pts(outline)))
		.attr("fill", "#fff").attr("stroke", colorLight).attr("stroke-width", 3.6)

	cfg.halo.forEach(i => {
		inner.append("path").attr("d", closed(pts(cfg.high[i])))
			.attr("fill", cfg.haloColor).attr("stroke", cfg.haloColor)
			.attr("stroke-width", 3.5).attr("stroke-linejoin", "round")
	})

	var grid = new Map()
	paintPolys(grid, cfg.low, colorLow)
	paintPolys(grid, cfg.high, colorHigh)
	paintPolys(grid, cfg.holes, null)
	paintSpecks(grid, cfg.light, colorLight)
	paintSpecks(grid, cfg.blue, colorLow)
	paintSpecks(grid, cfg.red, colorHigh)
	paintSpecks(grid, cfg.green, colorGreen)

	var byColor = d3.group(Array.from(grid.entries()), d => d[1])
	byColor.forEach((cells, color) => {
		var d = ""
		cells.forEach(c => {
			var k = c[0].split("_")
			var x0 = x(+k[0]*cell), x1 = x((+k[0]+1)*cell), y0 = y(+k[1]*cell), y1 = y((+k[1]+1)*cell)
			d += "M"+x0+" "+y0+"H"+x1+"V"+y1+"H"+x0+"Z"
		})
		inner.append("path").attr("d", d).attr("fill", color).attr("shape-rendering", "crispEdges")
	})

	// small white gaps inside the patches
	inner.append("g").selectAll("rect").data(pts(cfg.white)).join("rect")
		.attr("x", d => x(d[0]-3)).attr("y", d => y(d[1]-3))
		.attr("width", x(6)-x(0)).attr("height", y(6)-y(0)).attr("fill", "#fff")

	// white boxes with a green dot inside the blue patches
	pts(cfg.box).forEach(d => {
		inner.append("rect").attr("x", x(d[0]-9)).attr("y", y(d[1]-9)).attr("width", x(18)-x(0)).attr("height", y(18)-y(0)).attr("fill", "#fff")
		inner.append("rect").attr("x", x(d[0]-3)).attr("y", y(d[1]-3)).attr("width", x(6)-x(0)).attr("height", y(6)-y(0)).attr("fill", colorGreen)
	})

	g.append("path").attr("d", outlinePath(pts(outline)))
		.attr("fill", "none").attr("stroke", "#000").attr("stroke-width", 1.7).attr("stroke-linejoin", "round")

	g.append("text").attr("x", cfg.titleX).attr("y", 29)
		.style("font-size", "23px").style("white-space", "pre").style("letter-spacing", "1px")
		.text(cfg.title)
}

drawMap({name: "a", ox: 0, shift: 0, title: mapTitles[0], titleX: 245, low: aLow, high: aHigh, holes: aHoles, halo: aHaloIdx, haloColor: colorLight,
	white: aWhiteSpecks, light: aLightSpecks, blue: aBlueSpecks, red: aRedSpecks, green: aGreenSpecks, box: aBoxSpecks})
drawMap({name: "b", ox: 410, shift: -21, title: mapTitles[1], titleX: 647, low: bLow, high: bHigh, holes: bHoles, halo: bHaloIdx, haloColor: colorGreen,
	white: bWhiteSpecks, light: bLightSpecks, blue: bBlueSpecks, red: bRedSpecks, green: bGreenSpecks, box: []})
drawMap({name: "c", ox: 810, shift: -8, title: mapTitles[2], titleX: 1038, low: cLow, high: cHigh, holes: cHoles, halo: [], haloColor: colorLight,
	white: cWhiteSpecks, light: cLightSpecks, blue: cBlueSpecks, red: cRedSpecks, green: cGreenSpecks, box: []})

// scale bar
var barScale = d3.scaleLinear().domain([0, 50]).range([25.5, 133.5])
var bar = svg.append("g").attr("transform", "translate(0,339)")
	.call(d3.axisBottom(barScale).tickValues(scaleTicks).tickSizeInner(-6).tickSizeOuter(0).tickFormat(""))
bar.select(".domain").attr("stroke", "#222")
bar.selectAll(".tick line").attr("stroke", "#222")
scaleTicks.forEach(t => {
	svg.append("text").attr("x", barScale(t)).attr("y", 327).attr("text-anchor", t == 50 ? "start" : "middle")
		.attr("dx", t == 50 ? -12 : 0)
		.style("font-size", "18.5px")
		.text(t == 50 ? "50 km" : t)
})

// legend
svg.append("text").attr("x", 1208).attr("y", 25).style("font-size", "18px").style("font-weight", "bold")
	.style("font-family", "'Noto Sans CJK SC'").style("letter-spacing", "1.5px").text(legendTitle)
var legendY = d3.scaleBand().domain(legendLabels).range([39, 138]).paddingInner(0.28).paddingOuter(0)
legendLabels.forEach((l, i) => {
	svg.append("rect").attr("x", 1210.5).attr("y", legendY(l)).attr("width", 33).attr("height", legendY.bandwidth())
		.attr("fill", legendColors[i]).attr("stroke", "#333").attr("stroke-width", 1.2)
	svg.append("text").attr("x", 1252).attr("y", legendY(l)+legendY.bandwidth()-1)
		.style("font-size", "16px").style("letter-spacing", "5px").style("fill", "#333")
		.text(l)
})

// scatter panels
function drawScatter(cfg){
	var x = d3.scaleLinear().domain([-5, 20]).range([cfg.x0, cfg.x1])
	var y = d3.scaleLinear().domain([-2, 12]).range([699, 396])
	var g = svg.append("g")

	var xa = g.append("g").attr("transform", "translate(0,699)")
		.call(d3.axisBottom(x).tickValues(xTicks).tickSizeInner(-5).tickSizeOuter(0).tickPadding(12).tickFormat(String))
	var ya = g.append("g").attr("transform", "translate("+cfg.x0+",0)")
		.call(d3.axisLeft(y).tickValues(yTicks).tickSizeInner(-5).tickSizeOuter(0).tickPadding(9).tickFormat(String))
	;[xa, ya].forEach(a => {
		a.selectAll("text").style("font-size", "21px").style("font-family", "'Liberation Serif'").attr("fill", "#222")
		a.select(".domain").attr("stroke", "#111").attr("stroke-width", 1.2)
		a.selectAll("line").attr("stroke", "#111").attr("stroke-width", 1.2)
	})

	g.append("path").attr("d", d3.line().x(d => x(d[0])).y(d => y(d[1]))(cfg.line))
		.attr("fill", "none").attr("stroke", "#111").attr("stroke-width", 1.5).attr("stroke-dasharray", "3 5")

	g.append("g").selectAll("circle").data(pts(cfg.points)).join("circle")
		.attr("cx", d => x(d[0])).attr("cy", d => y(d[1])).attr("r", 3.4)
		.attr("fill", "#fff").attr("stroke", "#111").attr("stroke-width", 2)

	var m = g.append("text").attr("x", cfg.moranX).attr("y", 413).attr("text-anchor", "middle")
		.style("font-size", "17px").style("letter-spacing", "1.4px")
	m.append("tspan").text("Moran’ ")
	m.append("tspan").style("font-style", "italic").text("I")
	m.append("tspan").text(":"+cfg.moran)

	g.append("text").attr("x", cfg.titleX).attr("y", 675)
		.style("font-size", "23px").style("white-space", "pre").style("letter-spacing", "1px").text(cfg.title)

	g.append("text").attr("x", (cfg.x0+cfg.x1)/2 + 1).attr("y", 760).attr("text-anchor", "middle")
		.style("font-size", "20px").style("letter-spacing", "3px").style("font-family", "'Noto Sans CJK SC'")
		.text("风险标准化值")
	g.append("text").attr("transform", "translate("+cfg.labelX+",547) rotate(-90)").attr("text-anchor", "middle")
		.style("font-size", "20px").style("letter-spacing", "3px").style("font-family", "'Noto Sans CJK SC'")
		.text("空间滞后值")
}

drawScatter({x0: 86.7, x1: 434, points: dPoints.concat(dDense), line: dLine, moran: moranValues[0], moranX: 266, title: scatterTitles[0], titleX: 330, labelX: 43})
drawScatter({x0: 522.7, x1: 870, points: ePoints.concat(eDense), line: eLine, moran: moranValues[1], moranX: 702, title: scatterTitles[1], titleX: 767, labelX: 479})
drawScatter({x0: 959, x1: 1306.7, points: fPoints.concat(fDense), line: fLine, moran: moranValues[2], moranX: 1131, title: scatterTitles[2], titleX: 1202, labelX: 915})
</script>
</body>
</html>
